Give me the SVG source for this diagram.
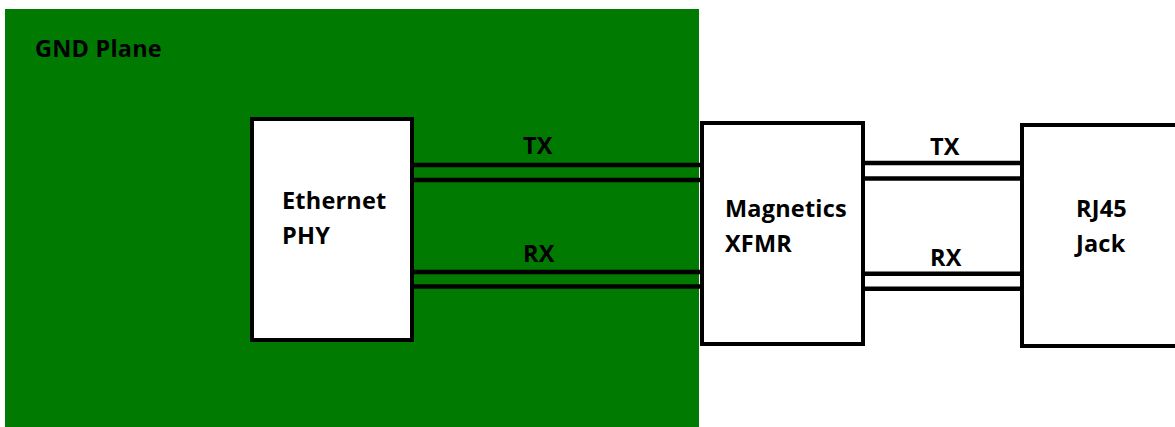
<svg xmlns="http://www.w3.org/2000/svg" width="1175" height="427" viewBox="0 0 1175 427">
<style>
.box{fill:#fff;stroke:#000;stroke-width:4}
.ln{stroke:#000;stroke-width:4.5;fill:none}
.t{font-family:"Open Sans",Lato,"Liberation Sans",sans-serif;font-weight:bold;font-size:23.5px;letter-spacing:0.2px;fill:#000}
</style>
<rect width="1175" height="427" fill="#fff"/>
<g id="gnd-plane">
<rect x="5" y="9" width="694" height="418" fill="#007a00"/>
<text class="t" x="35" y="57">GND Plane</text>
</g>
<g id="connectors">
<line class="ln" x1="412" y1="165" x2="702" y2="165"/>
<line class="ln" x1="412" y1="180" x2="702" y2="180"/>
<line class="ln" x1="412" y1="272" x2="702" y2="272"/>
<line class="ln" x1="412" y1="286.5" x2="702" y2="286.5"/>
<line class="ln" x1="863" y1="163" x2="1022" y2="163"/>
<line class="ln" x1="863" y1="178.5" x2="1022" y2="178.5"/>
<line class="ln" x1="863" y1="273.7" x2="1022" y2="273.7"/>
<line class="ln" x1="863" y1="288.7" x2="1022" y2="288.7"/>
<text class="t" x="523" y="154">TX</text>
<text class="t" x="523" y="262">RX</text>
<text class="t" x="930" y="155">TX</text>
<text class="t" x="930" y="266">RX</text>
</g>
<g id="ethernet-phy">
<rect class="box" x="252" y="119" width="160" height="221"/>
<text class="t" x="282" y="209">Ethernet</text>
<text class="t" x="282" y="244">PHY</text>
</g>
<g id="magnetics">
<rect class="box" x="702" y="123" width="161" height="221"/>
<text class="t" x="725" y="217">Magnetics</text>
<text class="t" x="725" y="252">XFMR</text>
</g>
<g id="rj45">
<rect class="box" x="1022" y="125" width="170" height="221"/>
<text class="t" x="1076" y="217">RJ45</text>
<text class="t" x="1076" y="252">Jack</text>
</g>
</svg>
